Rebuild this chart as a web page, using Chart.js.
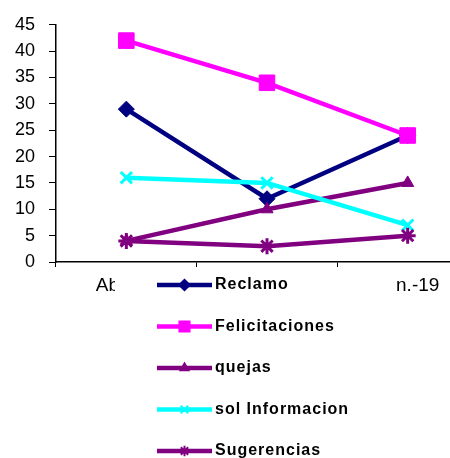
<!DOCTYPE html>
<html lang="es">
<head>
<meta charset="UTF-8">
<title>Reclamos y felicitaciones</title>
<script src="https://cdn.jsdelivr.net/npm/chart.js"></script>
<style>
  html, body { margin: 0; padding: 0; background: #fff; overflow: hidden; }
  #wrap { position: relative; width: 490px; height: 458px; }
</style>
</head>
<body>
<div id="wrap"><canvas id="chart"></canvas></div>
<script>
// data
const categories = ['Abr.-19', 'May.-19', 'Jun.-19'];
const reclamo = [29, 12, 24];
const felicitaciones = [42, 34, 24];
const quejas = [4, 10, 15];
const solInformacion = [16, 15, 7];
const sugerencias = [4, 3, 5];
const yMax = 45;
const yStep = 5;

const FONT = '"Liberation Sans", Arial, sans-serif';

function series(label, data, color, style, radius, pbw, order) {
  return {
    label: label,
    data: data,
    borderColor: color,
    backgroundColor: color,
    borderWidth: 4.5,
    pointStyle: style,
    pointRadius: radius,
    pointHoverRadius: radius,
    pointBorderWidth: pbw,
    pointBackgroundColor: color,
    pointBorderColor: color,
    tension: 0,
    order: order
  };
}

// custom legend drawn over the x labels, like the original
const boxLegend = {
  id: 'boxLegend',
  afterDraw(chart) {
    const ctx = chart.ctx;
    ctx.save();
    ctx.fillStyle = '#fff';
    ctx.fillRect(115, 268, 282, 190);
    const x0 = 157, x1 = 212, y0 = 285, dy = 41.5;
    chart.data.datasets.forEach((ds, i) => {
      const y = y0 + i * dy;
      ctx.strokeStyle = ds.borderColor;
      ctx.lineWidth = 4.5;
      ctx.beginPath();
      ctx.moveTo(x0, y);
      ctx.lineTo(x1, y);
      ctx.stroke();
      ctx.fillStyle = ds.borderColor;
      ctx.lineWidth = 2;
      Chart.helpers.drawPoint(ctx, {
        pointStyle: ds.pointStyle,
        radius: Math.max(4, ds.pointRadius * 0.65),
        rotation: 0,
        borderWidth: 2
      }, (x0 + x1) / 2, y);
      ctx.fillStyle = '#000';
      ctx.font = 'bold 16px ' + FONT;
      ctx.letterSpacing = '1px';
      ctx.textBaseline = 'middle';
      ctx.textAlign = 'left';
      ctx.fillText(ds.label, x1 + 3, y);
    });
    ctx.restore();
  }
};

new Chart(document.getElementById('chart'), {
  type: 'line',
  data: {
    labels: categories,
    datasets: [
      series('Reclamo', reclamo, '#000080', 'rectRot', 8, 1, 5),
      series('Felicitaciones', felicitaciones, '#FF00FF', 'rect', 11, 1, 4),
      series('quejas', quejas, '#800080', 'triangle', 7, 1, 3),
      series('sol Informacion', solInformacion, '#00FFFF', 'crossRot', 8, 3, 2),
      series('Sugerencias', sugerencias, '#800080', 'star', 8, 3, 1)
    ]
  },
  options: {
    responsive: true,
    maintainAspectRatio: false,
    devicePixelRatio: 1,
    animation: false,
    layout: { padding: { top: 22, right: 8, left: 0, bottom: 0 } },
    plugins: {
      legend: { display: false },
      tooltip: { enabled: false }
    },
    scales: {
      x: {
        offset: true,
        grid: { offset: true, drawOnChartArea: false, tickLength: 5, color: '#000' },
        border: { color: '#000', width: 1.5 },
        ticks: {
          color: '#000',
          font: { family: FONT, size: 19 },
          padding: 7,
          maxRotation: 0,
          autoSkip: false
        },
        afterFit(scale) { scale.height = 196; }
      },
      y: {
        min: 0,
        max: yMax,
        grid: { drawOnChartArea: false, tickLength: 7, color: '#000' },
        border: { color: '#000', width: 1.5 },
        ticks: {
          stepSize: yStep,
          color: '#000',
          font: { family: FONT, size: 18 },
          padding: 14
        },
        afterFit(scale) { scale.width = 56; }
      }
    }
  },
  plugins: [boxLegend]
});
</script>
</body>
</html>
